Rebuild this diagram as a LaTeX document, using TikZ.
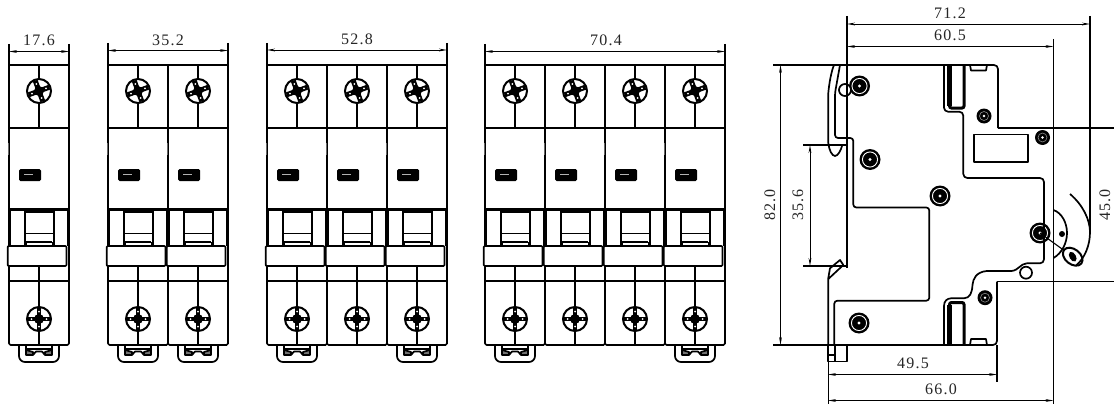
\documentclass[tikz,border=0pt]{standalone}
\usepackage{fontspec}
\usetikzlibrary{arrows.meta}
\newfontfamily\dimfont[LetterSpace=8]{Liberation Serif}
\tikzset{
  body/.style={line width=1.7pt,line join=round},
  thick line/.style={line width=2.8pt},
  thin line/.style={line width=0.9pt},
  dimline/.style={line width=0.9pt,{Stealth[length=8pt,width=2.8pt]}-{Stealth[length=8pt,width=2.8pt]}},
  extline/.style={line width=1.1pt},
  dimtext/.style={font=\dimfont\fontsize{16}{16}\selectfont,inner sep=0pt,text=black!85},
  pics/screwup/.style={code={
    \fill[white] (0,0) circle (12pt);
    \draw[line width=2pt] (0,0) circle (12pt);
    \foreach \a in {20,110,200,290}{
      \draw[line width=5pt] (0,0) -- (\a:11pt);
      \fill[white] (\a:7.5pt) circle (1pt);
    }
    \fill (0,0) circle (5pt);
  }},
  pics/screwdown/.style={code={
    \fill[white] (0,0) circle (12pt);
    \draw[line width=2pt] (0,0) circle (12pt);
    \foreach \a in {0,90,180,270}{
      \draw[line width=4.4pt] (0,0) -- (\a:11.5pt);
      \fill[white] (\a:7.5pt) circle (1pt);
    }
    \fill (0,0) circle (5pt);
  }},
  pics/polebody/.style={code={
    \draw[body,rounded corners=1.5pt] (0,65) -- (0,345) -- (60,345) -- (60,65);
    \draw[body] (-0.8,65) -- (60.8,65);
    \draw[body] (0,128) -- (60,128);
    \draw[line width=0.9pt,black!60] (-1,143) -- (-1,155);
    \draw[body] (30,65) -- (30,128);
    \path (30,91) pic {screwup};
    \draw[body] (30,266) -- (30,345);
    \path (30,319) pic {screwdown};
    \fill[rounded corners=1.5pt] (10,169) rectangle (32,181);
    \draw[white!70!black,line width=0.9pt] (15,174.5) -- (24,174.5);
    \draw[thick line] (0,209.5) -- (60,209.5);
    \draw[thick line] (0.5,209) -- (0.5,246) (59.5,209) -- (59.5,246);
    \draw[line width=2pt] (15.5,212) rectangle (44.5,246);
    \draw[body] (15.5,233.5) -- (44.5,233.5);
    \draw[body] (17,242) -- (43,242);
    \draw[thin line] (17,242) -- (17,246) (43,242) -- (43,246);
    \draw[body,fill=white,rounded corners=1pt] (-1.3,246) rectangle (57.5,266);
    \draw[body] (0,281) -- (60,281);
  }},
  pics/railclip/.style={code={
    \draw[body,rounded corners=6pt] (10,345) -- (10,362) -- (50,362) -- (50,345);
    \draw[body] (17,345) -- (17,355) (43,345) -- (43,355);
    \draw[body] (17,349) -- (43,349);
    \draw[body,fill=black!55] (17,350) -- (24,352) -- (24,355) -- (17,355) -- cycle;
    \draw[body,fill=black!55] (43,350) -- (36,352) -- (36,355) -- (43,355) -- cycle;
    \draw[body] (24,355) -- (27,351.5) -- (33,351.5) -- (36,355);
  }},
  pics/sidescrew/.style={code={
    \fill (0,0) circle (#1);
    \draw[white,line width=0.9pt] (0,0) circle ({0.72*#1});
    \fill[white] (0,0) circle (1.6pt);
  }},
  pics/sidesmall/.style={code={
    \fill (0,0) circle (7.5pt);
    \draw[black!45,line width=0.6pt] (0,0) circle (4.5pt);
    \fill[white] (0,0) circle (1.4pt);
  }},
}
\begin{document}
\begin{tikzpicture}[x=1pt,y=-1pt]
\useasboundingbox (0,0) rectangle (1114,404);
\fill[white] (0,0) rectangle (1114,404);

% front views
\foreach \px in {9,108,168,267,327,387,485,545,605,665}{
  \begin{scope}[shift={(\px,0)}]
    \path (0,0) pic {polebody};
  \end{scope}
}
\foreach \px in {9,108,168,267,387,485,665}{
  \begin{scope}[shift={(\px,0)}]
    \path (0,0) pic {railclip};
  \end{scope}
}

% front dimensions
\coordinate (a1) at (9,51.5);  \coordinate (a2) at (69,51.5);
\coordinate (b1) at (108,50.5);\coordinate (b2) at (228,50.5);
\coordinate (c1) at (267,50);  \coordinate (c2) at (447,50);
\coordinate (d1) at (485,51.5);\coordinate (d2) at (725,51.5);
\draw[dimline] (a1) -- (a2);
\draw[dimline] (b1) -- (b2);
\draw[dimline] (c1) -- (c2);
\draw[dimline] (d1) -- (d2);
\draw[extline] (9,44) -- (9,65) (69,44) -- (69,65);
\draw[extline] (108,43) -- (108,65) (228,43) -- (228,65);
\draw[extline] (267,43) -- (267,65) (447,43) -- (447,65);
\draw[extline] (485,44) -- (485,65) (725,44) -- (725,65);
\node[dimtext] (t176) at (39,40.5) {17.6};
\node[dimtext] (t352) at (168,40) {35.2};
\node[dimtext] (t528) at (357,39) {52.8};
\node[dimtext] (t704) at (606,40.5) {70.4};

% side view: screws first, so that outlines stay on top
\path (859.5,86) pic {sidescrew={10.5pt}};
\path (870,159.5) pic {sidescrew={10.5pt}};
\path (940,196) pic {sidescrew={10.5pt}};
\path (1040,233) pic {sidescrew={10.5pt}};
\path (859,323) pic {sidescrew={10.5pt}};
\path (984,116) pic {sidesmall};
\path (1042.5,137.5) pic {sidesmall};
\path (985,297.7) pic {sidesmall};

% top clip
\draw[body] (834,65) .. controls (831,72) and (829,85) .. (828.3,93) -- (828.3,143)
  .. controls (829,150) and (832,156) .. (835,156) .. controls (838,156) and (841,150) .. (842,146);
\draw[body,rounded corners=3pt] (840,65) -- (835,93) -- (835,138) -- (853.3,138) -- (853.3,207.5)
  -- (929.3,207.5) -- (929.3,300.7) -- (834.3,300.7) -- (834.3,345);
% lower clip
\draw[body] (828.3,345) -- (828.3,278) -- (830,268.3) -- (840,260) -- (843.3,265) -- (828.3,279);
% inner panel
\draw[body,rounded corners=4pt] (944,65) -- (944,111.7) -- (963.3,111.7) -- (963.3,178) -- (1044,178) -- (1044,263.3) -- (1026.7,263.3);
\draw[body] (1026.7,263.3) .. controls (1020,264) and (1019,270) .. (1011.7,271) -- (986.7,271)
  .. controls (976,272) and (973,279) .. (972.5,285) .. controls (972,293) and (970,298) .. (964,298.3)
  -- (951,298.3) .. controls (947,298.5) and (944,301) .. (944,306) -- (944,345);
% slots
\draw[line width=5pt] (949.5,65) -- (949.5,106);
\draw[line width=3pt,rounded corners=2pt] (949.5,104) -- (949.5,108) -- (964,108) -- (964,65);
\draw[line width=5pt] (949.5,345) -- (949.5,305);
\draw[line width=3pt,rounded corners=2pt] (949.5,306) -- (949.5,302.5) -- (964,302.5) -- (964,345);
% tabs
\draw[body] (970,65) -- (971,70.5) -- (986,70.5) -- (987,65);
\draw[body] (970,345) -- (971,339) -- (986,339) -- (987,345);
% window
\draw[body] (974,134.5) rectangle (1028,162);
% foot block
\draw[body] (828.3,345) -- (828.3,361.5) -- (847.3,361.5) -- (847.3,345);
\draw[body] (835,345) -- (835,361.5) (828.3,355) -- (835,355);
% small circles
\draw[body,fill=white] (845,90) circle (6pt);
\draw[body,fill=white] (1026,272.7) circle (6pt);
% lever
\draw[body] (1053.5,210) .. controls (1062,213) and (1067,223) .. (1067,233) .. controls (1067,243) and (1062,253) .. (1053.5,258);
\fill (1062,234) circle (3pt);
\draw[line width=1.1pt] (1040,233) -- (1072.7,256.7);
\draw[line width=2pt,fill=white,rotate around={-38:(1072.7,256.7)}] (1072.7,256.7) ellipse (11pt and 7.5pt);
\draw[line width=1.4pt,fill=black,rotate around={-60:(1072.7,256.7)}] (1072.7,256.7) ellipse (4.5pt and 2.5pt);
\draw[body] (1070,194) .. controls (1083,205) and (1090,220) .. (1090,232) .. controls (1090,245) and (1085,258) .. (1076,265.5);

% outer contour
\draw[body,rounded corners=4pt] (773,65) -- (998,65) -- (998,128);
\draw[body] (998,128) -- (1114,128);
\draw[body,rounded corners=4pt] (773,345) -- (997,345) -- (997,281.5);
\draw[body] (997,281.5) -- (1114,281.5);
\draw[body] (1053.5,128) -- (1053.5,281.5);
\draw[body] (847,16) -- (847,268);

% side dimensions
\draw[extline] (1090,16) -- (1090,232);
\draw[dimline] (847,24) -- (1090,24);
\draw[dimline] (847,46.5) -- (1053.5,46.5);
\draw[extline] (1053.5,39) -- (1053.5,128) (1053.5,281.5) -- (1053.5,404);
\draw[dimline] (828,374.5) -- (997,374.5);
\draw[dimline] (828,400.5) -- (1053.5,400.5);
\draw[extline] (997,345) -- (997,382);
\draw[extline] (828.3,361) -- (828.3,404);
\draw[dimline] (780.5,65) -- (780.5,345);
\draw[extline] (803,145) -- (848,145) (803,266) -- (847,266);
\draw[dimline] (810,145) -- (810,266);
\node[dimtext] (t712) at (950,13.5) {71.2};
\node[dimtext] (t605) at (950,35) {60.5};
\node[dimtext] (t495) at (913,363) {49.5};
\node[dimtext] (t660) at (941,389) {66.0};
\node[dimtext,rotate=90] (t820) at (770,205) {82.0};
\node[dimtext,rotate=90] (t356) at (798,205) {35.6};
\node[dimtext,rotate=90] (t450) at (1105,205) {45.0};
\end{tikzpicture}
\end{document}
